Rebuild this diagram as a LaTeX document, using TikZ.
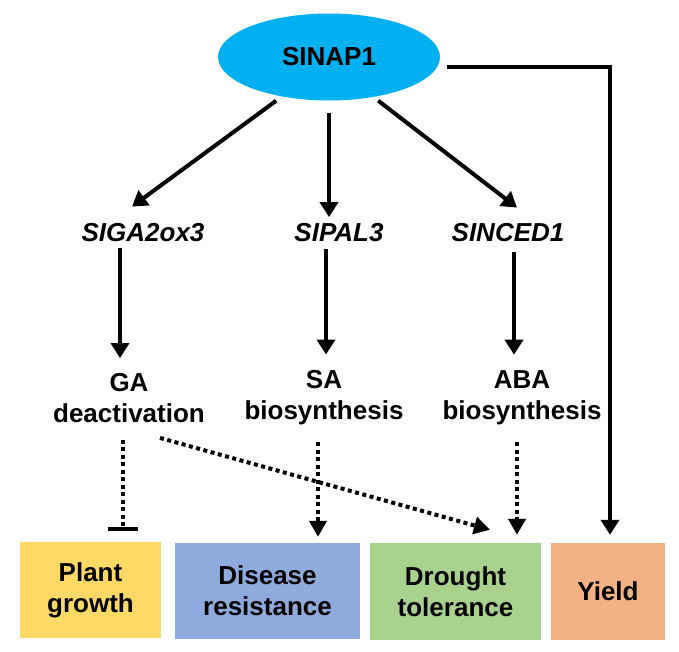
\documentclass[tikz,border=0pt]{standalone}
\usepackage{fontspec}
\setmainfont{Liberation Sans}
\usetikzlibrary{shapes.geometric,arrows.meta}
\definecolor{cyanc}{HTML}{00B0F0}
\definecolor{plantc}{HTML}{FFD966}
\definecolor{disc}{HTML}{8FAADC}
\definecolor{drc}{HTML}{A9D18E}
\definecolor{yc}{HTML}{F4B183}
\begin{document}
\begin{tikzpicture}[x=1pt,y=-1pt,
  txt/.style={font=\fontsize{26}{31}\selectfont\bfseries, inner sep=0pt, align=center},
  gene/.style={inner sep=0pt, font=\fontsize{26}{31}\selectfont\bfseries\itshape},
  arr/.style={line width=4pt, -{Triangle[length=15pt,width=18pt]}},
  darr/.style={line width=4pt, dash pattern=on 4pt off 3.5pt, -{Triangle[length=16pt,width=17pt]}},
  dbar/.style={line width=4pt, dash pattern=on 4pt off 3.5pt, -{Bar[width=30pt]}},
]
\useasboundingbox (0,0) rectangle (679,651);
\node[txt, ellipse, fill=cyanc, minimum width=222pt, minimum height=87pt, inner sep=0pt] (sinap) at (329,57) {SINAP1};
\node[gene] (siga) at (143,233) {SIGA2ox3};
\node[gene] (sipal) at (339,233) {SIPAL3};
\node[gene] (sinced) at (508,233) {SINCED1};
\node[txt] (ga) at (129,398) {GA\\deactivation};
\node[txt] (sa) at (324,398) {SA\\biosynthesis};
\node[txt] (aba) at (522,398) {ABA\\biosynthesis};
\node[txt, fill=plantc, minimum width=141pt, minimum height=96pt] (plant) at (90.5,590) {Plant\\growth};
\node[txt, fill=disc, minimum width=185pt, minimum height=96pt] (disease) at (267.5,591) {Disease\\resistance};
\node[txt, fill=drc, minimum width=171pt, minimum height=97pt] (drought) at (455.5,591.5) {Drought\\tolerance};
\node[txt, fill=yc, minimum width=114pt, minimum height=97pt] (yield) at (608,591.5) {Yield};
% solid arrows
\draw[arr, shorten <=7pt] (sinap.220) -- ([xshift=-11pt,yshift=17pt]siga.north);
\draw[arr, shorten <=12.5pt, shorten >=6.5pt] (sinap.south) -- ([xshift=-10pt]sipal.north);
\draw[arr, shorten <=6pt] (sinap.318) -- ([xshift=9pt,yshift=16pt]sinced.north);
\draw[arr, shorten <=5.5pt, shorten >=15pt] ([xshift=-23pt]siga.south) -- ([xshift=-9pt]ga.north);
\draw[arr, shorten <=7pt, shorten >=16pt] ([xshift=-13pt]sipal.south) -- ([xshift=2pt]sa.north);
\draw[arr, shorten <=9.5pt, shorten >=16pt] ([xshift=6pt]sinced.south) -- ([xshift=-8pt]aba.north);
\draw[arr, shorten <=7pt, shorten >=8pt] ([yshift=-10pt]sinap.east) -| ([xshift=2pt]yield.north);
% dotted
\draw[dbar, shorten <=17pt, shorten >=11pt] ([xshift=-6pt]ga.south) -- ([xshift=32.5pt]plant.north);
\draw[darr] ([xshift=31pt,yshift=-15pt]ga.south) -- ([xshift=34.5pt,yshift=13pt]drought.north);
\draw[darr, shorten <=17pt, shorten >=6pt] ([xshift=-6pt]sa.south) -- ([xshift=50.5pt]disease.north);
\draw[darr, shorten <=17pt, shorten >=8pt] ([xshift=-5pt]aba.south) -- ([xshift=61.5pt]drought.north);
\end{tikzpicture}
\end{document}
